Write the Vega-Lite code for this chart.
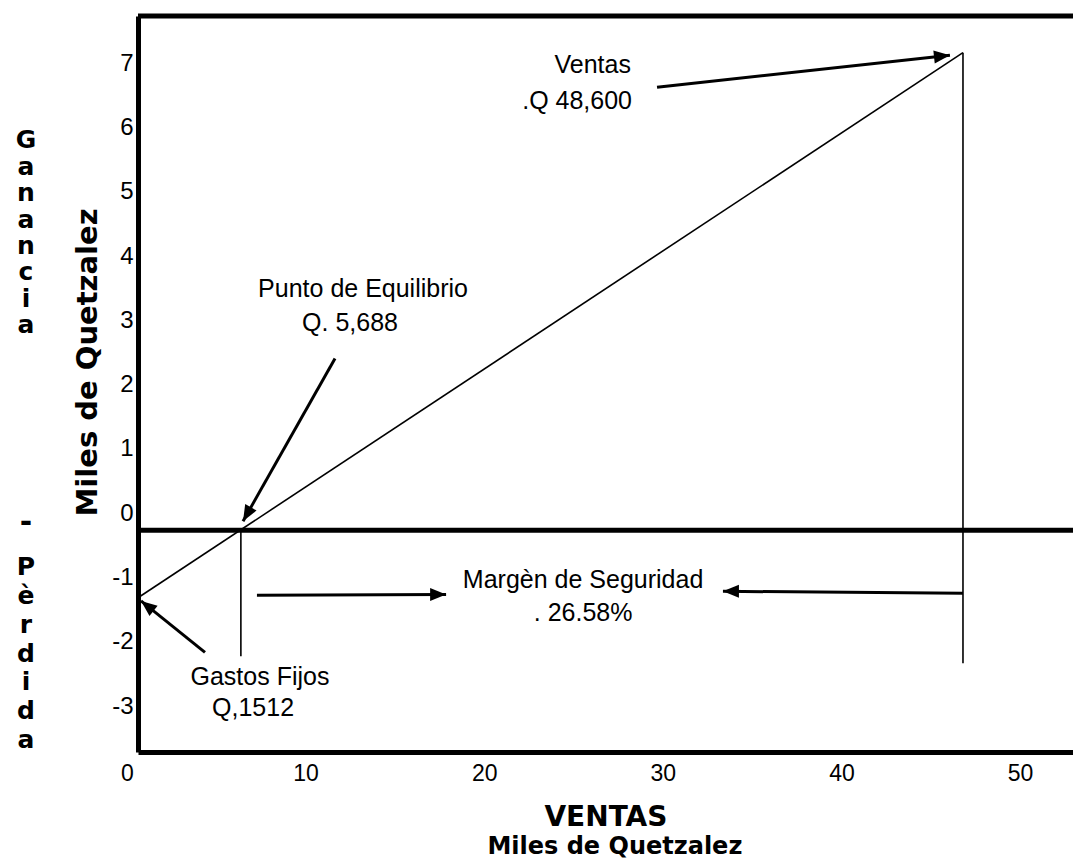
{
  "$schema": "https://vega.github.io/schema/vega-lite/v6.json",
  "width": 935,
  "height": 736,
  "autosize": {"type": "none"},
  "padding": {"left": 138, "top": 16, "right": 0, "bottom": 110},
  "background": "white",
  "config": {"view": {"stroke": null}, "font": "Liberation Sans", "text": {"color": "black"}},
  "layer": [
    {
      "data": {"values": [{"x": 0, "y": -1.05}, {"x": 46.19, "y": 7.43}]},
      "mark": {"type": "line", "color": "black", "strokeWidth": 1.6},
      "encoding": {
        "x": {"field": "x", "type": "quantitative",
              "scale": {"domain": [0, 52.35], "nice": false, "zero": false},
              "axis": {"values": [0, 10, 20, 30, 40, 50], "title": null, "grid": false, "ticks": false,
                       "domain": true, "domainColor": "black", "domainWidth": 5,
                       "labelExpr": "'' + datum.value",
                       "labelFont": "Liberation Sans", "labelFontSize": 23, "labelColor": "black",
                       "labelPadding": 10, "labelOffset": -11, "labelFlush": false, "labelOverlap": false}},
        "y": {"field": "y", "type": "quantitative",
              "scale": {"domain": [-3.45, 8], "nice": false, "zero": false},
              "axis": {"values": [-3, -2, -1, 0, 1, 2, 3, 4, 5, 6, 7], "title": null, "grid": false, "ticks": false,
                       "domain": true, "domainColor": "black", "domainWidth": 5,
                       "labelExpr": "'' + datum.value",
                       "labelFont": "Liberation Sans", "labelFontSize": 24, "labelColor": "black",
                       "labelPadding": 5, "labelOffset": -17, "labelFlush": false, "labelOverlap": false}}
      }
    },
    {
      "data": {"values": [{"x": 5.76, "y": 0, "y2": -1.96}, {"x": 46.19, "y": 7.43, "y2": -2.07}]},
      "mark": {"type": "rule", "color": "black", "strokeWidth": 1.6},
      "encoding": {
        "x": {"field": "x", "type": "quantitative"},
        "y": {"field": "y", "type": "quantitative"},
        "y2": {"field": "y2"}
      }
    },
    {
      "data": {"values": [{"y": 0}, {"y": 8}]},
      "mark": {"type": "rule", "color": "black", "strokeWidth": 5},
      "encoding": {
        "y": {"field": "y", "type": "quantitative"}
      }
    },
    {
      "data": {"values": [
        {"flecha": "ventas", "x": 29.06, "y": 6.89, "x2": 45.46, "y2": 7.39},
        {"flecha": "equilibrio", "x": 11.03, "y": 2.67, "x2": 5.88, "y2": 0.14},
        {"flecha": "gastos", "x": 3.75, "y": -1.90, "x2": 0.17, "y2": -1.10},
        {"flecha": "margen_der", "x": 6.66, "y": -1.01, "x2": 17.25, "y2": -1.00},
        {"flecha": "margen_izq", "x": 46.19, "y": -0.98, "x2": 32.75, "y2": -0.95}
      ]},
      "layer": [
        {
          "mark": {"type": "rule", "color": "black", "strokeWidth": 3},
          "encoding": {
            "x": {"field": "x", "type": "quantitative"},
            "y": {"field": "y", "type": "quantitative"},
            "x2": {"field": "x2"},
            "y2": {"field": "y2"}
          }
        },
        {
          "mark": {"type": "point", "shape": "M0,0L-1.6,-0.65L-1.6,0.65Z", "filled": true, "opacity": 1, "color": "black", "size": 400, "strokeWidth": 0},
          "encoding": {
            "x": {"field": "x2", "type": "quantitative"},
            "y": {"field": "y2", "type": "quantitative"},
            "angle": {"field": "flecha", "type": "nominal",
                      "scale": {"type": "ordinal", "domain": ["ventas", "equilibrio", "gastos", "margen_der", "margen_izq"],
                                "range": [-6.2, 119.4, -141.4, 0, 180]},
                      "legend": null}
          }
        }
      ]
    },
    {
      "data": {"values": [
        {"x": 12.6, "y": 3.76, "texto": "Punto de Equilibrio"},
        {"x": 11.87, "y": 3.22, "texto": "Q. 5,688"},
        {"x": 24.92, "y": -0.78, "texto": "Margèn de Seguridad"},
        {"x": 24.92, "y": -1.29, "texto": ". 26.58%"},
        {"x": 6.83, "y": -2.29, "texto": "Gastos Fijos"},
        {"x": 6.44, "y": -2.77, "texto": "Q,1512"}
      ]},
      "mark": {"type": "text", "font": "Liberation Sans", "fontSize": 25, "align": "center", "baseline": "middle", "color": "black"},
      "encoding": {
        "x": {"field": "x", "type": "quantitative"},
        "y": {"field": "y", "type": "quantitative"},
        "text": {"field": "texto"}
      }
    },
    {
      "data": {"values": [
        {"x": 27.6, "y": 7.23, "texto": "Ventas"},
        {"x": 27.66, "y": 6.67, "texto": ".Q 48,600"}
      ]},
      "mark": {"type": "text", "font": "Liberation Sans", "fontSize": 25, "align": "right", "baseline": "middle", "color": "black"},
      "encoding": {
        "x": {"field": "x", "type": "quantitative"},
        "y": {"field": "y", "type": "quantitative"},
        "text": {"field": "texto"}
      }
    },
    {
      "data": {"values": [{"x": 26.2, "y": -4.6, "texto": "VENTAS"}]},
      "mark": {"type": "text", "font": "DejaVu Sans", "fontWeight": "bold", "fontSize": 28, "align": "center", "baseline": "alphabetic", "color": "black"},
      "encoding": {
        "x": {"field": "x", "type": "quantitative"},
        "y": {"field": "y", "type": "quantitative"},
        "text": {"field": "texto"}
      }
    },
    {
      "data": {"values": [{"x": 26.7, "y": -5.04, "texto": "Miles de Quetzalez"}]},
      "mark": {"type": "text", "font": "DejaVu Sans", "fontWeight": "bold", "fontSize": 24, "align": "center", "baseline": "alphabetic", "color": "black"},
      "encoding": {
        "x": {"field": "x", "type": "quantitative"},
        "y": {"field": "y", "type": "quantitative"},
        "text": {"field": "texto"}
      }
    },
    {
      "data": {"values": [{"x": -2.3, "y": 2.61, "texto": "Miles de Quetzalez"}]},
      "mark": {"type": "text", "font": "DejaVu Sans", "fontWeight": "bold", "fontSize": 29, "align": "center", "baseline": "alphabetic", "angle": 270, "color": "black"},
      "encoding": {
        "x": {"field": "x", "type": "quantitative"},
        "y": {"field": "y", "type": "quantitative"},
        "text": {"field": "texto"}
      }
    },
    {
      "data": {"values": [{"x": -6.27, "y": 5.94, "texto": "G\na\nn\na\nn\nc\ni\na"}]},
      "mark": {"type": "text", "font": "DejaVu Sans", "fontWeight": "bold", "fontSize": 25, "align": "center", "baseline": "alphabetic", "lineBreak": "\n", "lineHeight": 26.4, "color": "black"},
      "encoding": {
        "x": {"field": "x", "type": "quantitative"},
        "y": {"field": "y", "type": "quantitative"},
        "text": {"field": "texto"}
      }
    },
    {
      "data": {"values": [{"x": -6.27, "y": 0.11, "texto": "-"}]},
      "mark": {"type": "text", "font": "DejaVu Sans", "fontWeight": "bold", "fontSize": 30, "align": "center", "baseline": "middle", "color": "black"},
      "encoding": {
        "x": {"field": "x", "type": "quantitative"},
        "y": {"field": "y", "type": "quantitative"},
        "text": {"field": "texto"}
      }
    },
    {
      "data": {"values": [{"x": -6.27, "y": -0.7, "texto": "P\nè\nr\nd\ni\nd\na"}]},
      "mark": {"type": "text", "font": "DejaVu Sans", "fontWeight": "bold", "fontSize": 25, "align": "center", "baseline": "alphabetic", "lineBreak": "\n", "lineHeight": 28.8, "color": "black"},
      "encoding": {
        "x": {"field": "x", "type": "quantitative"},
        "y": {"field": "y", "type": "quantitative"},
        "text": {"field": "texto"}
      }
    }
  ]
}
